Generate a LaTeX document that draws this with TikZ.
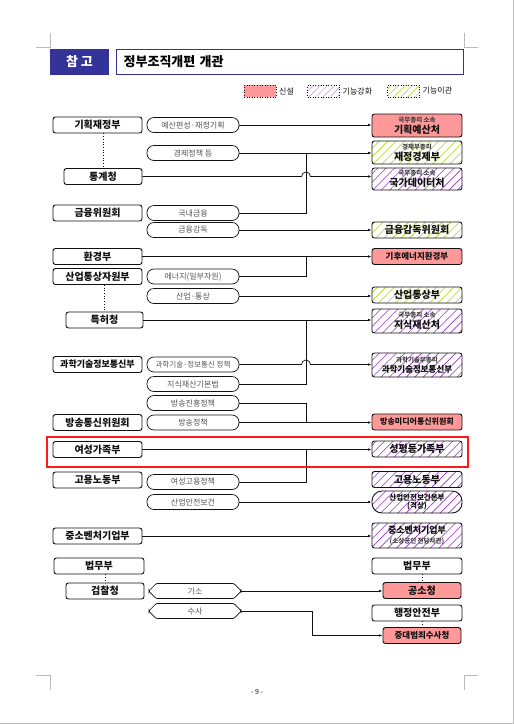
\documentclass[tikz,border=0pt]{standalone}
\usepackage{fontspec}
\setmainfont{Noto Sans CJK KR}
\usetikzlibrary{arrows.meta,calc,patterns.meta,shapes.misc}
\definecolor{orgink}{HTML}{111111}
\definecolor{orgmuted}{HTML}{555555}
\definecolor{orgnavy}{HTML}{333399}
\definecolor{orgred}{HTML}{FF9999}
\definecolor{orgpurple}{HTML}{9933CC}
\definecolor{orggreen}{HTML}{A8D620}
\definecolor{orgmark}{HTML}{BBBBBB}
\definecolor{orgalert}{HTML}{FF1A1A}
\newcommand{\subtag}[1]{{\fontsize{6.5}{7.5}\selectfont\color{orgink!80}#1}}
\tikzset{
  oldbox/.style={draw=orgink, fill=white, rounded corners=2.5pt,
    line width=.9pt, font=\fontsize{10}{11}\selectfont\bfseries, text=orgink,
    align=center, minimum width=89pt, minimum height=16pt, inner sep=0pt},
  taskpill/.style={draw=orgink, fill=white, rounded corners=7pt,
    line width=.7pt, font=\fontsize{8}{9}\selectfont, text=orgmuted,
    minimum width=92pt, minimum height=15pt, inner sep=0pt},
  taskhex/.style={taskpill, chamfered rectangle, rounded corners=1pt,
    chamfered rectangle xsep=4pt},
  newbox/.style={oldbox, fill=orgred, minimum width=90pt},
  upbox/.style={oldbox, minimum width=90pt,
    pattern={Lines[angle=45,distance=6pt,line width=.6pt]}, pattern color=orgpurple},
  movebox/.style={upbox, pattern color=orggreen},
  legtext/.style={font=\fontsize{8}{9}\selectfont, text=orgink, anchor=west, inner sep=1pt},
  legkey/.style={postaction={draw=orgink, dotted, line width=.6pt},
    minimum width=32pt, minimum height=12pt, inner sep=0pt},
  flow/.style={-{Latex[length=3.5pt,width=2.6pt]}, draw=orgink, line width=.7pt},
  link/.style={draw=orgink, line width=.7pt},
  tie/.style={draw=orgink, line width=.7pt, dotted}
}

\begin{document}
\begin{tikzpicture}[x=1pt,y=-1pt]
  \fill[white] (0,0) rectangle (514,724);
  \useasboundingbox (0,0) rectangle (514,724);
  % page edge and crop marks
  \draw[orgmark, line width=1pt] (513.5,0) -- (513.5,724) (0,723.5) -- (514,723.5);
  \draw[orgmark, line width=.6pt] (36,47) -- (50,47) -- (50,33)
    (478,47) -- (464,47) -- (464,33)
    (36,675) -- (50,675) -- (50,690)
    (478,675) -- (464,675) -- (464,690);

  % heading
  \node[fill=orgnavy, text=white, font=\fontsize{13}{15}\selectfont\bfseries,
    minimum width=59pt, minimum height=26pt, inner sep=0pt] (tag) at (79.5,62) {참 고};
  \node[draw=orgnavy, line width=1.3pt, font=\fontsize{13}{15}\selectfont\bfseries,
    anchor=west, text width=333pt, align=left, inner xsep=7pt,
    minimum height=25pt] (title) at (116,62) {정부조직개편 개관};

  % legend
  \node[legkey, fill=orgred] (keynew) at (260,91) {};
  \node[legtext] (keynewtxt) at (keynew.east) {\ 신설};
  \node[legkey, pattern={Lines[angle=45,distance=5pt,line width=.5pt]},
    pattern color=orgpurple!55] (keyup) at (323.5,91) {};
  \node[legtext] (keyuptxt) at (keyup.east) {\ 기능강화};
  \node[legkey, pattern={Lines[angle=45,distance=5pt,line width=.5pt]},
    pattern color=orggreen] (keymove) at (403.5,91) {};
  \node[legtext] (keymovetxt) at (keymove.east) {\ 기능이관};

  % current ministries
  \node[oldbox] (gihoek) at (97.5,125) {기획재정부};
  \node[oldbox, minimum width=78pt] (tonggye) at (103,176.5) {통계청};
  \node[oldbox] (geumyung) at (97.5,213) {금융위원회};
  \node[oldbox] (hwangyeong) at (97.5,256.5) {환경부};
  \node[oldbox] (saneop) at (97.5,276.5) {산업통상자원부};
  \node[oldbox, minimum width=77pt] (teukheo) at (104.5,320) {특허청};
  \node[oldbox, font=\fontsize{9}{10}\selectfont\bfseries] (gwahak) at (97.5,364.5) {과학기술정보통신부};
  \node[oldbox] (bangtong) at (97.5,422.5) {방송통신위원회};
  \node[oldbox] (yeoseong) at (97.5,449.5) {여성가족부};
  \node[oldbox] (goyong) at (97.5,480) {고용노동부};
  \node[oldbox] (jungso) at (97.5,536) {중소벤처기업부};
  \node[oldbox, minimum width=90pt] (beommu) at (99,566) {법무부};
  \node[oldbox, minimum width=78pt] (geomchal) at (105,591) {검찰청};

  % functions moved
  \node[taskpill] (budget) at (193,125) {예산편성·재정기획};
  \node[taskpill] (econ) at (193,153) {경제정책 등};
  \node[taskpill] (domfin) at (193,213) {국내금융};
  \node[taskpill] (finsup) at (193,230) {금융감독};
  \node[taskpill] (energy) at (193,276.5) {에너지(일부자원)};
  \node[taskpill] (trade) at (193,296) {산업·통상};
  \node[taskpill, font=\fontsize{7.5}{8}\selectfont] (ictpol) at (193,364.5) {과학기술·정보통신 정책};
  \node[taskpill] (iplaw) at (193,384) {지식재산기본법};
  \node[taskpill] (bcpromo) at (193,403) {방송진흥정책};
  \node[taskpill] (bcpol) at (193,422.5) {방송정책};
  \node[taskpill] (womenjob) at (193,482) {여성고용정책};
  \node[taskpill] (safety) at (193,502) {산업안전보건};
  \node[taskhex] (indict) at (195,591) {기소};
  \node[taskhex] (probe) at (195,611) {수사};

  % reorganised ministries
  \node[newbox, minimum height=23pt] (budgetoff) at (417,125.5) {\subtag{국무총리 소속}\\기획예산처};
  \node[movebox, minimum height=23pt] (finecon) at (417,152.5) {\subtag{경제부총리}\\재정경제부};
  \node[upbox, minimum height=22pt] (dataoff) at (417,179) {\subtag{국무총리 소속}\\국가데이터처};
  \node[movebox] (finsupcom) at (417,230) {금융감독위원회};
  \node[newbox, font=\fontsize{8.5}{10}\selectfont\bfseries] (climate) at (417,256.5) {기후에너지환경부};
  \node[movebox] (tradeind) at (417,295) {산업통상부};
  \node[upbox, minimum height=24pt] (ipoff) at (417,321) {\subtag{국무총리 소속}\\지식재산처};
  \node[upbox, minimum height=24pt, font=\fontsize{8.5}{9.5}\selectfont\bfseries] (scict) at (417,365) {\subtag{과학기술부총리}\\과학기술정보통신부};
  \node[newbox, font=\fontsize{8}{9}\selectfont\bfseries] (mediacom) at (417,422) {방송미디어통신위원회};
  \node[upbox] (equality) at (417,449) {성평등가족부};
  \node[upbox] (labor) at (417,479.5) {고용노동부};
  \node[upbox, rounded corners=10pt, minimum height=22pt, font=\fontsize{7.5}{8.5}\selectfont\bfseries] (safetyhq) at (417,502) {산업안전보건본부\\(격상)};
  \node[upbox, minimum height=25pt, font=\fontsize{9}{10}\selectfont\bfseries] (smes) at (417,535.5) {중소벤처기업부\\\subtag{(소상공인 전담차관)}};
  \node[oldbox, minimum width=90pt] (justice) at (417,566) {법무부};
  \node[newbox, minimum width=78pt] (prosoff) at (422,590.5) {공소청};
  \node[oldbox, minimum width=90pt] (interior) at (417,613) {행정안전부};
  \node[newbox, minimum width=78pt, font=\fontsize{8.5}{10}\selectfont\bfseries] (crimeoff) at (422,635.5) {중대범죄수사청};

  % joints on the trunk
  \coordinate (jecon) at (306,153);
  \coordinate (jclimate) at (306,256.5);
  \coordinate (jip) at (306,320);
  \coordinate (jmedia) at (306,422.5);
  \coordinate (jequal) at (306,449.5);
  \coordinate (jprobe) at (312,611);

  % links
  \draw[tie] (gihoek.south -| tonggye.north) -- (tonggye.north);
  \draw[tie] (saneop.south -| teukheo.north) -- (teukheo.north);
  \draw[tie] (beommu.south -| geomchal.north) -- (geomchal.north);
  \draw[tie] (justice.south -| prosoff.north) -- (prosoff.north);
  \draw[tie] (interior.south -| crimeoff.north) -- (crimeoff.north);

  \draw[flow] (budget.east) -- (budget.east -| budgetoff.west);
  \draw[flow] (econ.east) -- (econ.east -| finecon.west);
  \draw[link] (domfin.east) -| (jecon);
  \draw[flow] (tonggye.east) -- ($(tonggye.east -| jecon)+(-4.5pt,0)$)
    arc[start angle=180, end angle=0, radius=4.5pt] -- (tonggye.east -| dataoff.west);
  \draw[flow] (finsup.east) -- (finsup.east -| finsupcom.west);
  \draw[flow] (hwangyeong.east) -- (hwangyeong.east -| climate.west);
  \draw[link] (energy.east) -| (jclimate);
  \draw[flow] (trade.east) -- (trade.east -| tradeind.west);
  \draw[flow] (teukheo.east) -- (teukheo.east -| ipoff.west);
  \draw[link] (iplaw.east) -| (jip);
  \draw[flow] (ictpol.east) -- ($(ictpol.east -| jip)+(-4.5pt,0)$)
    arc[start angle=180, end angle=0, radius=4.5pt] -- (ictpol.east -| scict.west);
  \draw[link] (bcpromo.east) -| (jmedia);
  \draw[flow] (bcpol.east) -- (bcpol.east -| mediacom.west);
  \draw[flow] (yeoseong.east) -- (yeoseong.east -| equality.west);
  \draw[link] (womenjob.east) -| (jequal);
  \draw[flow] (safety.east) -- (safety.east -| safetyhq.west);
  \draw[flow] (jungso.east) -- (jungso.east -| smes.west);
  \draw[flow] (indict.east) -- (indict.east -| prosoff.west);
  \draw[flow] (probe.east) -- (jprobe) |- (crimeoff.west);

  % highlight
  \draw[orgalert, line width=2.5pt] (47,437) rectangle (468,467);

  % page number
  \node[font=\fontsize{7}{8}\selectfont, text=orgink] (pageno) at (257,692) {- 9 -};
\end{tikzpicture}
\end{document}
